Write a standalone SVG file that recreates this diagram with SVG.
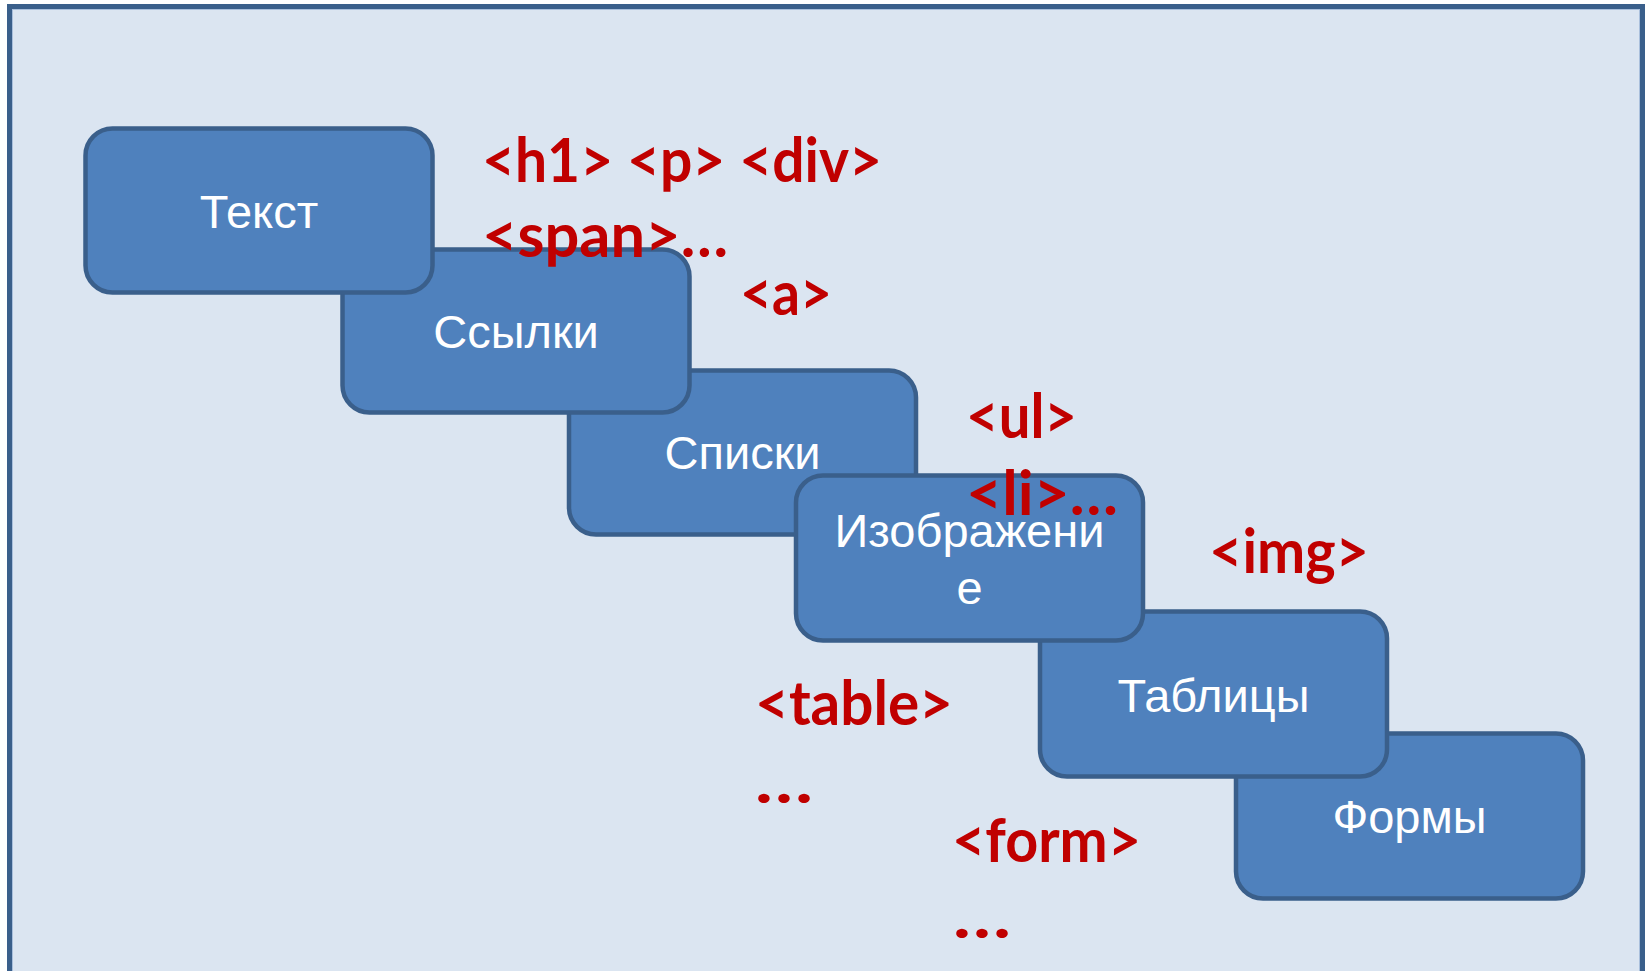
<svg xmlns="http://www.w3.org/2000/svg" width="1650" height="971" viewBox="0 0 1650 971">
<style>
.box{fill:#4f81bd;stroke:#3a5f8b;stroke-width:4.5}
.bt{font-family:"Liberation Sans",Arial,sans-serif;font-size:47px;fill:#ffffff;text-anchor:middle}
.tag{font-family:Lato,"Open Sans",sans-serif;font-weight:bold;font-size:62px;fill:#c00000}
</style>
<rect x="0" y="0" width="1650" height="971" fill="#ffffff"/>
<rect id="frame" x="9.5" y="6.5" width="1633" height="1000" fill="#dbe5f1" stroke="#3a5f8b" stroke-width="5"/>
<rect x="12.5" y="9.5" width="1627" height="1000" fill="none" stroke="#a9bfdc" stroke-width="1"/>
<g id="node-formy">
<rect class="box" x="1236" y="733.5" width="347" height="165" rx="27"/>
<text class="bt" x="1409.5" y="833">Формы</text>
</g>
<g id="node-tablitsy">
<rect class="box" x="1040" y="611.5" width="347" height="165" rx="27"/>
<text class="bt" x="1213.5" y="712">Таблицы</text>
</g>
<g id="node-spiski">
<rect class="box" x="569" y="370.5" width="347" height="164" rx="27"/>
<text class="bt" x="742.5" y="469">Списки</text>
</g>
<g id="node-izobrazhenie">
<rect class="box" x="796" y="475.5" width="347" height="165" rx="27"/>
<text class="bt" x="969.5" y="547">Изображени</text>
<text class="bt" x="969.5" y="604">е</text>
</g>
<g id="node-ssylki">
<rect class="box" x="342.5" y="249.5" width="347" height="163" rx="27"/>
<text class="bt" x="516" y="348">Ссылки</text>
</g>
<g id="node-tekst">
<rect class="box" x="85.5" y="128.5" width="347" height="164" rx="27"/>
<text class="bt" x="259" y="228">Текст</text>
</g>
<g id="labels">
<text class="tag" x="482" y="182" textLength="400" lengthAdjust="spacingAndGlyphs">&lt;h1&gt; &lt;p&gt; &lt;div&gt;</text>
<text class="tag" x="482" y="257" textLength="246" lengthAdjust="spacingAndGlyphs">&lt;span&gt;…</text>
<text class="tag" x="740" y="315" textLength="92" lengthAdjust="spacingAndGlyphs">&lt;a&gt;</text>
<text class="tag" x="966" y="438" textLength="111" lengthAdjust="spacingAndGlyphs">&lt;ul&gt;</text>
<text class="tag" x="966" y="515" textLength="152" lengthAdjust="spacingAndGlyphs">&lt;li&gt;…</text>
<text class="tag" x="1209" y="573" textLength="160" lengthAdjust="spacingAndGlyphs">&lt;img&gt;</text>
<text class="tag" x="755" y="725" textLength="198" lengthAdjust="spacingAndGlyphs">&lt;table&gt;</text>
<text class="tag" x="755" y="803" textLength="58" lengthAdjust="spacingAndGlyphs">…</text>
<text class="tag" x="952" y="862" textLength="189" lengthAdjust="spacingAndGlyphs">&lt;form&gt;</text>
<text class="tag" x="953" y="938" textLength="58" lengthAdjust="spacingAndGlyphs">…</text>
</g>
</svg>
